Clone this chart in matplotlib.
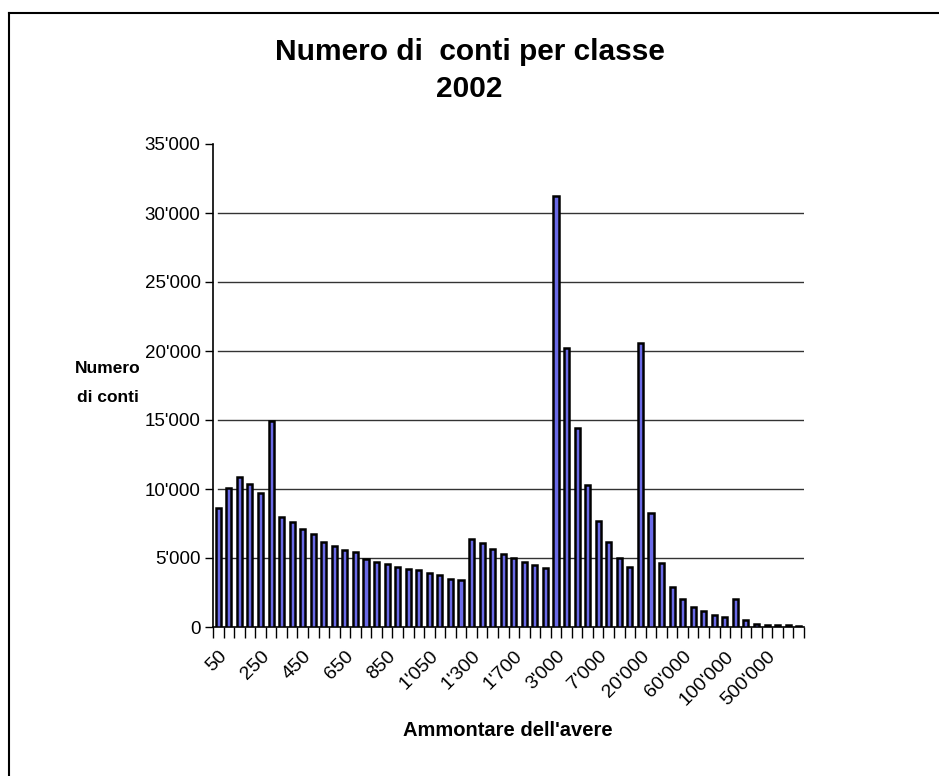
import matplotlib.pyplot as plt
from matplotlib.ticker import FuncFormatter, FixedLocator
from matplotlib.lines import Line2D
from matplotlib.transforms import ScaledTranslation

plt.rcParams['font.family'] = ['Liberation Sans', 'DejaVu Sans']

# accounts per class (56 classes)
conti = [8600, 10100, 10880, 10330, 9730, 14930, 8000, 7590, 7100, 6720,
         6190, 5870, 5560, 5440, 4960, 4740, 4570, 4340, 4190, 4140,
         3900, 3780, 3490, 3420, 6380, 6120, 5660, 5280, 5030, 4740,
         4480, 4290, 31200, 20250, 14420, 10300, 7700, 6160, 5030, 4340,
         20600, 8230, 4620, 2910, 2020, 1450, 1130, 890, 750, 2020,
         530, 240, 170, 150, 150, 100]
tick_labels = ["50", "250", "450", "650", "850", "1'050", "1'300", "1'700",
               "3'000", "7'000", "20'000", "60'000", "100'000", "500'000"]

fig = plt.figure(figsize=(9.39, 7.76), dpi=100)
ax = fig.add_axes([213/939, 1 - 627/776, (804 - 213)/939, (627 - 144)/776])

x = list(range(len(conti)))
ax.bar(x, conti, width=0.48, color='#6a6ae6', edgecolor='black',
       linewidth=1.8, zorder=3)

ax.set_xlim(-0.5, len(conti) - 0.5)
ax.set_ylim(0, 35000)
ax.set_yticks(range(0, 35001, 5000))
ax.yaxis.set_major_formatter(FuncFormatter(lambda v, p: f"{int(v):,}".replace(",", "'")))
for v in range(5000, 30001, 5000):
    ax.axhline(v, xmin=0.008, xmax=1, color='#333333', lw=1.0, zorder=1)

ax.set_xticks(list(range(0, len(conti), 4)))
ax.set_xticklabels(tick_labels, rotation=45, ha='right', rotation_mode='anchor')
shift = ScaledTranslation(-20/100, 0, fig.dpi_scale_trans)
for lab in ax.get_xticklabels():
    lab.set_transform(lab.get_transform() + shift)
ax.xaxis.set_minor_locator(FixedLocator([i - 0.5 for i in range(len(conti) + 1)]))
ax.tick_params(axis='x', which='major', length=0, pad=15, labelsize=14)
ax.tick_params(axis='x', which='minor', length=8, width=1, direction='out')
ax.tick_params(axis='y', length=6, width=1, labelsize=13.5, pad=3)

for s in ['top', 'right']:
    ax.spines[s].set_visible(False)
ax.spines['left'].set_linewidth(1.2)
ax.spines['bottom'].set_linewidth(1.2)

fig.text(0.5, 1 - 52/776, "Numero di  conti per classe", ha='center', va='center',
         fontsize=21.5, fontweight='bold')
fig.text(0.5, 1 - 89/776, "2002", ha='center', va='center',
         fontsize=21.5, fontweight='bold')
fig.text(108/939, 1 - 383/776, "Numero\ndi conti", ha='center', va='center',
         fontsize=12.5, fontweight='bold', linespacing=2.2)
fig.text(508/939, 1 - 731/776, "Ammontare dell'avere", ha='center', va='center',
         fontsize=14.5, fontweight='bold')

# outer frame (left and top edges visible)
fig.add_artist(Line2D([8.5/939, 8.5/939], [0, 1 - 12.5/776], color='black', lw=1.5,
                      transform=fig.transFigure))
fig.add_artist(Line2D([8.5/939, 1], [1 - 12.5/776, 1 - 12.5/776], color='black', lw=1.5,
                      transform=fig.transFigure))

fig.savefig("out.png", dpi=100)
